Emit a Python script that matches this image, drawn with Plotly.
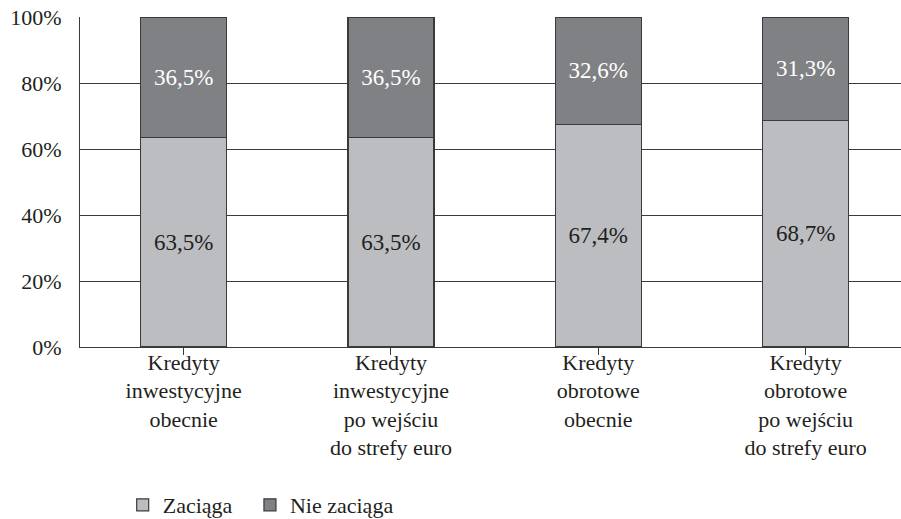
import plotly.graph_objects as go

categories = [
    "Kredyty<br>inwestycyjne<br>obecnie",
    "Kredyty<br>inwestycyjne<br>po wejściu<br>do strefy euro",
    "Kredyty<br>obrotowe<br>obecnie",
    "Kredyty<br>obrotowe<br>po wejściu<br>do strefy euro",
]
zaciaga = [63.5, 63.5, 67.4, 68.7]
nie_zaciaga = [36.5, 36.5, 32.6, 31.3]
series_names = ["Zaciąga", "Nie zaciąga"]
y_ticks = [0, 20, 40, 60, 80, 100]
y_tick_labels = ["0%", "20%", "40%", "60%", "80%", "100%"]

FONT = "Liberation Serif, Times New Roman, serif"
TXT = "#231f20"
EDGE = "#3a3a3c"

def fmt(v):
    return f"{v:.1f}".replace(".", ",") + "%"

fig = go.Figure()
fig.add_trace(go.Bar(
    x=list(range(len(categories))), y=zaciaga, name=series_names[0], legend="legend",
    showlegend=True,
    marker=dict(color="#bcbdc0", line=dict(color=EDGE, width=1.2)),
    text=[fmt(v) for v in zaciaga], textposition="inside", insidetextanchor="middle",
    textfont=dict(family=FONT, size=23, color=TXT), width=0.415,
))
fig.add_trace(go.Bar(
    x=list(range(len(categories))), y=nie_zaciaga, name=series_names[1], legend="legend2",
    showlegend=True,
    marker=dict(color="#808184", line=dict(color=EDGE, width=1.2)),
    text=[fmt(v) for v in nie_zaciaga], textposition="inside", insidetextanchor="middle",
    textfont=dict(family=FONT, size=23, color="white"), width=0.415,
))

legend_common = dict(orientation="h", yref="container", y=0.027, xanchor="left",
                     yanchor="middle", font=dict(family=FONT, size=22, color=TXT),
                     bgcolor="rgba(0,0,0,0)")

fig.update_layout(
    barmode="stack",
    showlegend=True,
    width=901, height=519,
    margin=dict(l=80, r=0, t=17, b=172),
    plot_bgcolor="white", paper_bgcolor="white",
    font=dict(family=FONT, size=22, color=TXT),
    legend=dict(x=0.052, **legend_common),
    legend2=dict(x=0.207, **legend_common),
    xaxis=dict(
        tickmode="array", tickvals=list(range(len(categories))), ticktext=categories,
        range=[-0.5, 3.46], showgrid=False, showline=True, linecolor=EDGE, linewidth=1.2,
        ticks="outside", tickson="boundaries", ticklen=7, tickcolor=EDGE, tickwidth=1.2,
        tickfont=dict(family=FONT, size=22, color=TXT), tickangle=0, ticklabelstandoff=-12,
    ),
    yaxis=dict(
        range=[0, 100], tickmode="array", tickvals=y_ticks, ticktext=y_tick_labels,
        showgrid=True, gridcolor=EDGE, gridwidth=1.2, showline=True,
        linecolor=EDGE, linewidth=1.2, zeroline=False,
        tickfont=dict(family=FONT, size=22, color=TXT), ticks="", ticklabelstandoff=13,
    ),
)

fig.write_html("out.html", config={"displayModeBar": False},
               post_script="document.body.style.margin='0';")
